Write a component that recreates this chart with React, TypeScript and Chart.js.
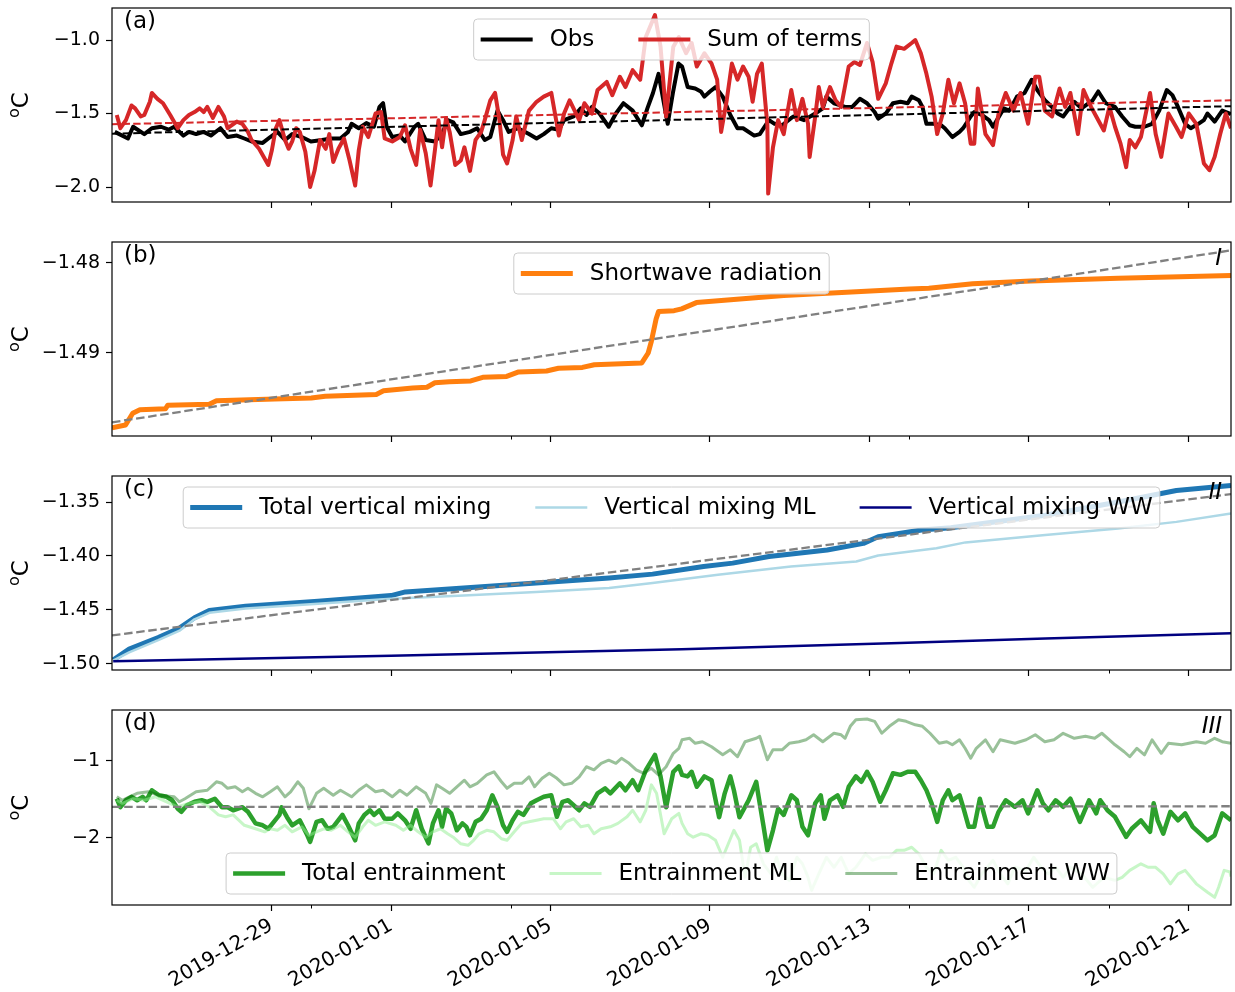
import { useEffect, useRef } from "react";
import Chart from "chart.js/auto";

// shared look, matplotlib-ish
const FONT = "'DejaVu Sans', sans-serif";
const FIG_W = 1235;
const PLOT_LEFT = 112;
const PLOT_RIGHT = 1231;

// x axis: days since 2019-12-25 00:00
const X_MAX = 28.07;
const X_TICK_DAYS = [4, 7, 11, 15, 19, 23, 27];
const X_TICK_LABELS = ["2019-12-29", "2020-01-01", "2020-01-05", "2020-01-09", "2020-01-13", "2020-01-17", "2020-01-21"];
const X_MINOR_DAYS = [5, 10, 20, 25];

type Pt = [number, number];

// (a) observed temperature vs sum of terms
const obs: Pt[] = [
  [0.07, -1.625], [0.4, -1.67], [0.53, -1.59], [0.81, -1.64], [1.0, -1.6], [1.23, -1.59], [1.42, -1.61], [1.56, -1.59],
  [1.79, -1.65], [1.93, -1.625], [2.11, -1.64], [2.3, -1.625], [2.48, -1.65], [2.72, -1.6], [2.9, -1.66], [3.13, -1.65],
  [3.32, -1.67], [3.5, -1.69], [3.78, -1.7], [3.97, -1.66], [4.15, -1.625], [4.34, -1.68], [4.52, -1.64], [4.76, -1.66],
  [4.99, -1.69], [5.27, -1.68], [5.5, -1.67], [5.73, -1.67], [5.92, -1.625], [6.01, -1.57], [6.19, -1.6], [6.38, -1.565],
  [6.57, -1.59], [6.71, -1.455], [6.8, -1.43], [6.89, -1.59], [7.03, -1.66], [7.22, -1.65], [7.35, -1.69], [7.59, -1.59],
  [7.68, -1.57], [7.87, -1.68], [8.1, -1.69], [8.28, -1.64], [8.42, -1.545], [8.56, -1.56], [8.75, -1.64], [8.98, -1.625],
  [9.16, -1.6], [9.35, -1.68], [9.49, -1.66], [9.67, -1.48], [9.81, -1.545], [9.95, -1.625], [10.18, -1.6], [10.46, -1.64],
  [10.65, -1.67], [10.83, -1.64], [11.02, -1.6], [11.21, -1.61], [11.34, -1.545], [11.58, -1.52], [11.76, -1.465], [11.9, -1.51],
  [12.04, -1.455], [12.23, -1.5], [12.46, -1.59], [12.64, -1.5], [12.83, -1.43], [13.06, -1.48], [13.29, -1.58], [13.43, -1.465],
  [13.57, -1.36], [13.71, -1.23], [13.94, -1.57], [14.07, -1.36], [14.21, -1.16], [14.3, -1.18], [14.44, -1.32], [14.63, -1.33],
  [14.77, -1.35], [14.86, -1.385], [15.0, -1.35], [15.14, -1.32], [15.32, -1.385], [15.51, -1.51], [15.69, -1.6], [15.83, -1.6],
  [16.11, -1.65], [16.25, -1.64], [16.48, -1.545], [16.62, -1.57], [16.81, -1.58], [17.09, -1.52], [17.36, -1.545], [17.64, -1.5],
  [17.83, -1.465], [17.92, -1.385], [18.11, -1.43], [18.39, -1.455], [18.57, -1.455], [18.76, -1.4], [18.94, -1.43], [19.13, -1.49],
  [19.22, -1.535], [19.41, -1.5], [19.59, -1.43], [19.78, -1.42], [19.96, -1.43], [20.06, -1.385], [20.24, -1.41], [20.33, -1.455],
  [20.43, -1.57], [20.61, -1.57], [20.8, -1.58], [20.89, -1.6], [21.08, -1.66], [21.26, -1.625], [21.35, -1.6], [21.54, -1.52],
  [21.63, -1.49], [21.82, -1.51], [22.0, -1.545], [22.1, -1.59], [22.37, -1.465], [22.51, -1.48], [22.7, -1.385], [22.89, -1.36],
  [23.07, -1.27], [23.21, -1.34], [23.4, -1.41], [23.58, -1.455], [23.72, -1.5], [23.86, -1.52], [24.04, -1.455], [24.14, -1.42],
  [24.32, -1.465], [24.6, -1.41], [24.74, -1.35], [24.93, -1.43], [25.16, -1.455], [25.34, -1.52], [25.53, -1.58], [25.67, -1.59],
  [25.9, -1.59], [26.09, -1.57], [26.27, -1.48], [26.46, -1.34], [26.6, -1.375], [26.74, -1.455], [26.92, -1.57], [27.06, -1.6],
  [27.25, -1.57], [27.39, -1.545], [27.48, -1.5], [27.66, -1.555], [27.85, -1.48], [28.04, -1.5], [28.07, -1.505],
];
const sumTerms: Pt[] = [
  [0.12, -1.51], [0.21, -1.6], [0.35, -1.545], [0.49, -1.445], [0.58, -1.465], [0.72, -1.52], [0.81, -1.51], [0.95, -1.42],
  [1.0, -1.36], [1.14, -1.4], [1.28, -1.43], [1.46, -1.51], [1.65, -1.6], [1.79, -1.545], [1.93, -1.51], [2.07, -1.49],
  [2.2, -1.465], [2.3, -1.49], [2.39, -1.455], [2.53, -1.53], [2.67, -1.455], [2.81, -1.52], [2.9, -1.6], [3.13, -1.555],
  [3.27, -1.57], [3.41, -1.625], [3.5, -1.68], [3.69, -1.74], [3.92, -1.85], [4.01, -1.75], [4.11, -1.6], [4.2, -1.545],
  [4.34, -1.68], [4.43, -1.74], [4.52, -1.69], [4.62, -1.6], [4.71, -1.625], [4.85, -1.76], [4.97, -2.0], [5.08, -1.89],
  [5.22, -1.68], [5.36, -1.74], [5.45, -1.64], [5.55, -1.83], [5.68, -1.74], [5.82, -1.67], [5.96, -1.82], [6.1, -1.99],
  [6.19, -1.75], [6.29, -1.59], [6.43, -1.66], [6.61, -1.5], [6.75, -1.49], [6.84, -1.67], [7.03, -1.69], [7.22, -1.66],
  [7.35, -1.58], [7.49, -1.74], [7.63, -1.85], [7.73, -1.61], [7.87, -1.77], [7.99, -1.99], [8.1, -1.75], [8.19, -1.545],
  [8.28, -1.73], [8.38, -1.53], [8.47, -1.625], [8.61, -1.85], [8.75, -1.82], [8.84, -1.73], [8.98, -1.89], [9.12, -1.68],
  [9.26, -1.625], [9.35, -1.545], [9.49, -1.41], [9.61, -1.36], [9.72, -1.545], [9.81, -1.78], [9.91, -1.84], [10.05, -1.68],
  [10.14, -1.52], [10.28, -1.68], [10.46, -1.48], [10.65, -1.42], [10.83, -1.385], [11.02, -1.36], [11.21, -1.65], [11.34, -1.5],
  [11.48, -1.41], [11.72, -1.545], [11.85, -1.43], [12.04, -1.5], [12.18, -1.34], [12.41, -1.285], [12.55, -1.375], [12.74, -1.25],
  [12.88, -1.32], [13.06, -1.205], [13.25, -1.27], [13.39, -0.98], [13.62, -0.83], [13.76, -1.045], [13.9, -1.52], [14.08, -1.045],
  [14.22, -0.98], [14.4, -1.09], [14.54, -1.02], [14.67, -1.18], [14.86, -1.09], [15.04, -1.16], [15.18, -1.27], [15.28, -1.625],
  [15.42, -1.41], [15.55, -1.16], [15.69, -1.27], [15.83, -1.18], [15.97, -1.25], [16.07, -1.42], [16.18, -1.23], [16.3, -1.16],
  [16.44, -1.58], [16.46, -2.045], [16.58, -1.73], [16.71, -1.545], [16.85, -1.64], [17.04, -1.34], [17.18, -1.545], [17.32, -1.4],
  [17.46, -1.57], [17.5, -1.795], [17.64, -1.52], [17.73, -1.32], [17.83, -1.455], [18.01, -1.32], [18.15, -1.41], [18.29, -1.455],
  [18.48, -1.18], [18.62, -1.15], [18.76, -1.17], [18.94, -1.02], [19.08, -1.15], [19.22, -1.4], [19.41, -1.295], [19.55, -1.16],
  [19.68, -1.045], [19.87, -1.06], [20.06, -1.02], [20.15, -1.0], [20.29, -1.09], [20.43, -1.23], [20.56, -1.385], [20.7, -1.64],
  [20.84, -1.5], [20.98, -1.27], [21.12, -1.43], [21.26, -1.295], [21.4, -1.43], [21.54, -1.705], [21.63, -1.705], [21.72, -1.33],
  [21.91, -1.64], [22.1, -1.715], [22.24, -1.5], [22.42, -1.36], [22.61, -1.48], [22.79, -1.36], [22.98, -1.57], [23.16, -1.25],
  [23.26, -1.25], [23.4, -1.48], [23.58, -1.52], [23.77, -1.33], [23.91, -1.455], [24.04, -1.36], [24.23, -1.64], [24.37, -1.34],
  [24.56, -1.455], [24.69, -1.52], [24.88, -1.615], [25.02, -1.455], [25.16, -1.59], [25.3, -1.705], [25.44, -1.865], [25.53, -1.68],
  [25.67, -1.73], [25.81, -1.66], [26.04, -1.36], [26.18, -1.64], [26.32, -1.795], [26.5, -1.5], [26.69, -1.59], [26.83, -1.66],
  [27.01, -1.5], [27.2, -1.57], [27.39, -1.84], [27.53, -1.885], [27.66, -1.795], [27.8, -1.64], [27.94, -1.5], [28.07, -1.6],
];
const obsTrend: Pt[] = [[0, -1.637], [X_MAX, -1.45]];
const sumTrend: Pt[] = [[0, -1.573], [X_MAX, -1.41]];

// (b) shortwave radiation (cumulative)
const shortwave: Pt[] = [
  [0.0, -1.4983], [0.34, -1.498], [0.52, -1.4967], [0.7, -1.4963], [1.34, -1.4962], [1.4, -1.4958], [2.44, -1.4957],
  [2.62, -1.4953], [4.08, -1.4951], [5.0, -1.495], [5.35, -1.4948], [6.63, -1.4946], [6.81, -1.4942], [7.54, -1.4939],
  [7.9, -1.4938], [8.1, -1.4933], [8.46, -1.4932], [9.0, -1.4931], [9.3, -1.4927], [9.9, -1.4926], [10.2, -1.4921],
  [10.9, -1.492], [11.2, -1.4917], [11.8, -1.4916], [12.1, -1.4913], [13.29, -1.4911], [13.45, -1.49], [13.53, -1.4887],
  [13.65, -1.4862], [13.71, -1.4854], [14.1, -1.4853], [14.29, -1.4851], [14.66, -1.4844], [15.75, -1.484], [16.85, -1.4836],
  [18.67, -1.4832], [20.0, -1.4829], [20.49, -1.4828], [21.59, -1.4823], [23.05, -1.482], [25.24, -1.4817], [X_MAX, -1.4814],
];
const shortwaveTrend: Pt[] = [[0, -1.4977], [X_MAX, -1.4786]];

// (c) vertical mixing (cumulative)
const mixTotal: Pt[] = [
  [0.03, -1.4963], [0.43, -1.4863], [1.16, -1.4755], [1.71, -1.4664], [2.07, -1.4572], [2.44, -1.4504], [3.35, -1.4465],
  [5.17, -1.4419], [7.0, -1.4367], [7.36, -1.4333], [8.82, -1.4296], [10.64, -1.425], [12.47, -1.4204], [13.56, -1.4168],
  [14.84, -1.4097], [15.57, -1.4066], [16.48, -1.4005], [17.94, -1.3944], [18.85, -1.3883], [19.22, -1.3822], [20.31, -1.376],
  [21.04, -1.3739], [23.41, -1.3622], [25.24, -1.35], [26.7, -1.3393], [X_MAX, -1.3347],
];
const mixML: Pt[] = [
  [0.03, -1.497], [0.43, -1.4893], [1.16, -1.478], [1.71, -1.4688], [2.07, -1.4587], [2.44, -1.4526], [3.35, -1.4486],
  [5.17, -1.4443], [7.0, -1.4397], [8.82, -1.4367], [10.64, -1.4333], [12.47, -1.4296], [13.56, -1.425], [15.2, -1.4174],
  [17.03, -1.4097], [18.67, -1.4051], [19.22, -1.3996], [20.68, -1.3929], [21.41, -1.3874], [23.41, -1.3806], [25.24, -1.3745],
  [26.7, -1.3684], [X_MAX, -1.3607],
];
const mixWW: Pt[] = [[0.03, -1.4976], [7.0, -1.4924], [14.29, -1.4863], [19.76, -1.4807], [23.41, -1.4765], [X_MAX, -1.4716]];
const mixTrend: Pt[] = [[0, -1.4735], [X_MAX, -1.3426]];

// (d) entrainment
const entTotal: Pt[] = [
  [0.12, -1.49], [0.21, -1.6], [0.35, -1.51], [0.49, -1.465], [0.63, -1.51], [0.77, -1.465], [0.86, -1.51], [1.0, -1.38],
  [1.18, -1.445], [1.37, -1.465], [1.51, -1.51], [1.65, -1.62], [1.74, -1.66], [1.88, -1.575], [2.07, -1.53], [2.25, -1.51],
  [2.39, -1.53], [2.58, -1.49], [2.76, -1.6], [2.9, -1.6], [3.04, -1.64], [3.27, -1.6], [3.41, -1.66], [3.6, -1.81],
  [3.78, -1.835], [3.92, -1.88], [4.06, -1.79], [4.2, -1.7], [4.25, -1.6], [4.39, -1.73], [4.52, -1.835], [4.71, -1.77],
  [4.9, -1.965], [4.97, -2.05], [5.13, -1.79], [5.27, -1.77], [5.41, -1.88], [5.55, -1.855], [5.78, -1.7], [5.92, -1.835],
  [6.1, -2.03], [6.19, -1.81], [6.33, -1.7], [6.47, -1.64], [6.57, -1.7], [6.71, -1.64], [6.84, -1.75], [7.03, -1.75],
  [7.17, -1.68], [7.35, -1.77], [7.49, -1.88], [7.63, -1.64], [7.77, -1.88], [7.94, -2.07], [8.05, -1.81], [8.19, -1.64],
  [8.28, -1.855], [8.38, -1.62], [8.51, -1.68], [8.65, -1.9], [8.79, -1.81], [8.89, -1.855], [8.98, -1.965], [9.12, -1.79],
  [9.26, -1.75], [9.4, -1.64], [9.54, -1.445], [9.67, -1.595], [9.81, -1.835], [9.91, -1.92], [10.05, -1.77], [10.18, -1.66],
  [10.32, -1.7], [10.51, -1.55], [10.65, -1.51], [10.83, -1.465], [11.02, -1.445], [11.16, -1.725], [11.3, -1.53], [11.44, -1.51],
  [11.72, -1.64], [11.85, -1.55], [11.99, -1.595], [12.18, -1.42], [12.37, -1.355], [12.5, -1.42], [12.74, -1.29], [12.88, -1.38],
  [13.06, -1.25], [13.2, -1.38], [13.39, -1.12], [13.62, -0.92], [13.76, -1.2], [13.9, -1.6], [14.08, -1.14], [14.22, -1.07],
  [14.3, -1.18], [14.44, -1.2], [14.54, -1.14], [14.67, -1.335], [14.86, -1.2], [15.04, -1.25], [15.23, -1.73], [15.37, -1.42],
  [15.51, -1.2], [15.6, -1.38], [15.74, -1.73], [15.97, -1.51], [16.16, -1.27], [16.2, -1.4], [16.34, -1.835], [16.44, -2.16],
  [16.58, -1.9], [16.71, -1.62], [16.85, -1.7], [17.04, -1.445], [17.18, -1.51], [17.32, -1.855], [17.46, -1.965], [17.64, -1.55],
  [17.78, -1.445], [17.87, -1.75], [18.01, -1.51], [18.2, -1.445], [18.34, -1.595], [18.48, -1.335], [18.66, -1.2], [18.8, -1.27],
  [18.94, -1.14], [19.08, -1.27], [19.27, -1.53], [19.41, -1.38], [19.59, -1.16], [19.78, -1.18], [19.96, -1.14], [20.15, -1.14],
  [20.29, -1.25], [20.43, -1.38], [20.56, -1.55], [20.7, -1.79], [20.84, -1.51], [20.98, -1.38], [21.08, -1.51], [21.26, -1.445],
  [21.35, -1.595], [21.49, -1.855], [21.63, -1.855], [21.77, -1.49], [21.96, -1.855], [22.1, -1.855], [22.24, -1.66], [22.42, -1.51],
  [22.65, -1.595], [22.84, -1.51], [22.98, -1.68], [23.21, -1.38], [23.35, -1.55], [23.49, -1.64], [23.67, -1.51], [23.86, -1.595],
  [24.04, -1.49], [24.28, -1.79], [24.51, -1.51], [24.69, -1.68], [24.79, -1.51], [24.97, -1.64], [25.16, -1.725], [25.44, -1.985],
  [25.58, -1.88], [25.81, -1.77], [26.04, -1.92], [26.13, -1.55], [26.23, -1.77], [26.37, -1.945], [26.55, -1.66], [26.74, -1.77],
  [26.92, -1.68], [27.11, -1.855], [27.48, -2.03], [27.66, -1.965], [27.85, -1.68], [X_MAX, -1.77],
];
const entML: Pt[] = [
  [0.12, -1.51], [0.26, -1.55], [0.53, -1.49], [0.81, -1.51], [1.09, -1.465], [1.37, -1.53], [1.65, -1.595], [1.93, -1.55],
  [2.2, -1.53], [2.44, -1.595], [2.67, -1.7], [2.85, -1.725], [3.04, -1.7], [3.32, -1.835], [3.6, -1.88], [3.83, -1.92],
  [3.97, -1.88], [4.15, -1.9], [4.34, -1.835], [4.52, -1.92], [4.76, -1.855], [4.94, -1.965], [5.13, -1.92], [5.31, -1.88],
  [5.5, -1.9], [5.73, -1.835], [5.92, -1.92], [6.1, -1.99], [6.29, -1.855], [6.43, -1.77], [6.61, -1.835], [6.84, -1.79],
  [7.12, -1.835], [7.31, -1.9], [7.49, -1.835], [7.68, -1.92], [7.87, -1.99], [8.05, -1.92], [8.24, -1.88], [8.42, -1.945],
  [8.56, -1.99], [8.75, -2.075], [8.93, -2.095], [9.07, -2.03], [9.21, -1.945], [9.4, -1.9], [9.58, -1.92], [9.77, -2.01],
  [9.91, -2.03], [10.09, -1.92], [10.28, -1.81], [10.46, -1.79], [10.65, -1.77], [10.83, -1.75], [11.07, -1.75], [11.25, -1.88],
  [11.39, -1.79], [11.58, -1.75], [11.76, -1.855], [11.95, -1.835], [12.09, -1.945], [12.27, -1.88], [12.5, -1.855], [12.69, -1.81],
  [12.92, -1.725], [13.06, -1.64], [13.25, -1.79], [13.39, -1.64], [13.53, -1.31], [13.66, -1.42], [13.85, -1.945], [14.04, -1.75],
  [14.22, -1.68], [14.3, -1.81], [14.44, -1.945], [14.58, -1.99], [14.77, -1.945], [14.95, -1.965], [15.14, -2.03], [15.32, -2.25],
  [15.46, -2.075], [15.6, -1.9], [15.74, -2.03], [15.88, -2.51], [16.02, -2.12], [16.16, -2.075], [16.34, -2.335], [16.53, -2.465],
  [16.67, -2.25], [16.81, -2.465], [16.99, -2.55], [17.18, -2.25], [17.32, -2.335], [17.46, -2.51], [17.55, -2.68], [17.73, -2.465],
  [17.92, -2.25], [18.11, -2.38], [18.29, -2.25], [18.48, -2.465], [18.66, -2.38], [18.9, -2.205], [19.08, -2.29], [19.31, -2.25],
  [19.5, -2.25], [19.68, -2.16], [19.87, -2.16], [20.06, -2.12], [20.24, -2.205], [20.43, -2.38], [20.61, -2.465], [20.8, -2.16],
  [20.98, -2.29], [21.17, -2.25], [21.35, -2.38], [21.49, -2.55], [21.63, -2.64], [21.82, -2.465], [22.1, -2.29], [22.28, -2.465],
  [22.47, -2.595], [22.65, -2.38], [22.93, -2.42], [23.12, -2.25], [23.31, -2.38], [23.49, -2.465], [23.67, -2.38], [23.86, -2.51],
  [24.04, -2.38], [24.32, -2.465], [24.6, -2.64], [24.88, -2.51], [25.16, -2.55], [25.34, -2.51], [25.53, -2.42], [25.81, -2.335],
  [25.99, -2.38], [26.18, -2.38], [26.37, -2.465], [26.55, -2.595], [26.74, -2.465], [26.92, -2.42], [27.2, -2.595], [27.48, -2.705],
  [27.66, -2.77], [27.76, -2.64], [27.9, -2.42], [28.04, -2.44], [X_MAX, -2.5],
];
const entWW: Pt[] = [
  [0.12, -1.465], [0.26, -1.51], [0.44, -1.465], [0.63, -1.42], [0.91, -1.4], [1.18, -1.445], [1.56, -1.465], [1.69, -1.53],
  [1.83, -1.49], [2.11, -1.4], [2.39, -1.38], [2.62, -1.27], [2.76, -1.29], [2.9, -1.355], [3.09, -1.335], [3.27, -1.4],
  [3.41, -1.355], [3.6, -1.42], [3.78, -1.465], [3.97, -1.4], [4.15, -1.335], [4.34, -1.465], [4.48, -1.4], [4.66, -1.27],
  [4.8, -1.355], [4.94, -1.62], [5.13, -1.42], [5.31, -1.355], [5.55, -1.445], [5.73, -1.38], [6.01, -1.465], [6.19, -1.38],
  [6.38, -1.31], [6.61, -1.4], [6.8, -1.38], [7.03, -1.465], [7.22, -1.38], [7.4, -1.445], [7.63, -1.335], [7.87, -1.42],
  [8.0, -1.55], [8.14, -1.31], [8.28, -1.355], [8.47, -1.42], [8.65, -1.335], [8.84, -1.25], [8.98, -1.335], [9.16, -1.29],
  [9.4, -1.18], [9.58, -1.14], [9.77, -1.27], [9.91, -1.355], [10.09, -1.29], [10.28, -1.29], [10.46, -1.205], [10.6, -1.335],
  [10.79, -1.225], [10.97, -1.16], [11.16, -1.225], [11.34, -1.31], [11.53, -1.29], [11.72, -1.205], [11.9, -1.075], [12.09, -1.115],
  [12.27, -1.03], [12.46, -0.99], [12.64, -1.03], [12.78, -0.965], [12.97, -1.03], [13.15, -1.115], [13.34, -1.16], [13.53, -1.095],
  [13.71, -1.18], [13.9, -1.075], [14.08, -0.9], [14.22, -0.835], [14.3, -0.725], [14.49, -0.705], [14.63, -0.77], [14.81, -0.75],
  [15.04, -0.815], [15.32, -0.92], [15.51, -0.855], [15.69, -0.945], [15.88, -0.75], [16.16, -0.705], [16.25, -0.68], [16.44, -0.985],
  [16.58, -0.855], [16.81, -0.855], [16.99, -0.77], [17.23, -0.75], [17.41, -0.725], [17.6, -0.66], [17.83, -0.75], [18.11, -0.64],
  [18.29, -0.66], [18.39, -0.705], [18.52, -0.55], [18.66, -0.465], [18.94, -0.455], [19.13, -0.485], [19.31, -0.64], [19.5, -0.55],
  [19.73, -0.465], [19.92, -0.485], [20.15, -0.53], [20.33, -0.55], [20.52, -0.64], [20.75, -0.77], [20.94, -0.75], [21.08, -0.79],
  [21.26, -0.725], [21.4, -0.835], [21.54, -0.965], [21.68, -0.835], [21.91, -0.725], [22.1, -0.88], [22.28, -0.725], [22.65, -0.77],
  [22.93, -0.725], [23.16, -0.66], [23.4, -0.75], [23.63, -0.725], [23.86, -0.64], [24.14, -0.705], [24.42, -0.68], [24.65, -0.705],
  [24.83, -0.64], [25.02, -0.725], [25.16, -0.79], [25.39, -0.88], [25.53, -0.945], [25.71, -0.835], [25.9, -0.92], [26.09, -0.725],
  [26.32, -0.9], [26.5, -0.77], [26.83, -0.79], [27.2, -0.75], [27.43, -0.77], [27.66, -0.705], [27.85, -0.75], [X_MAX, -0.77],
];
const entTrend: Pt[] = [[0, -1.596], [X_MAX, -1.588]];

type Line = { data: Pt[]; color: string; width: number; dashed?: boolean; label?: string };
type Panel = {
  top: number; height: number; xAxisH: number; showDates: boolean;
  yMin: number; yMax: number; yTicks: number[]; yDigits: number;
  lines: Line[]; legendAt: "top" | "bottom"; tag: string; numeral: string;
};

const GREY = "#808080";

const PANELS: Panel[] = [
  {
    top: 0, height: 222, xAxisH: 20, showDates: false,
    yMin: -2.102, yMax: -0.782, yTicks: [-2.0, -1.5, -1.0], yDigits: 1,
    lines: [
      { data: obs, color: "#000000", width: 4, label: "Obs" },
      { data: sumTerms, color: "#d62728", width: 4, label: "Sum of terms" },
      { data: obsTrend, color: "#000000", width: 2, dashed: true },
      { data: sumTrend, color: "#d62728", width: 2, dashed: true },
    ],
    legendAt: "top", tag: "(a)", numeral: "",
  },
  {
    top: 234, height: 222, xAxisH: 20, showDates: false,
    yMin: -1.49922, yMax: -1.47767, yTicks: [-1.49, -1.48], yDigits: 2,
    lines: [
      { data: shortwave, color: "#ff7f0e", width: 5, label: "Shortwave radiation" },
      { data: shortwaveTrend, color: GREY, width: 2.3, dashed: true },
    ],
    legendAt: "top", tag: "(b)", numeral: "I",
  },
  {
    top: 468, height: 222, xAxisH: 20, showDates: false,
    yMin: -1.5056, yMax: -1.3259, yTicks: [-1.5, -1.45, -1.4, -1.35], yDigits: 2,
    lines: [
      { data: mixTotal, color: "#1f77b4", width: 5, label: "Total vertical mixing" },
      { data: mixML, color: "#add8e6", width: 2.5, label: "Vertical mixing ML" },
      { data: mixWW, color: "#000080", width: 2.5, label: "Vertical mixing WW" },
      { data: mixTrend, color: GREY, width: 2.3, dashed: true },
    ],
    legendAt: "top", tag: "(c)", numeral: "II",
  },
  {
    top: 702, height: 290, xAxisH: 87, showDates: true,
    yMin: -2.87, yMax: -0.338, yTicks: [-2, -1], yDigits: 0,
    lines: [
      { data: entTotal, color: "#2ca02c", width: 4.5, label: "Total entrainment" },
      { data: entML, color: "rgba(144,238,144,0.5)", width: 3, label: "Entrainment ML" },
      { data: entWW, color: "rgba(0,100,0,0.4)", width: 3, label: "Entrainment WW" },
      { data: entTrend, color: GREY, width: 2.3, dashed: true },
    ],
    legendAt: "bottom", tag: "(d)", numeral: "III",
  },
];

const fmtY = (v: number, digits: number) => (v < 0 ? "\u2212" : "") + Math.abs(v).toFixed(digits);

// frame, minor ticks, legend box, panel tags and the y title
const decor = {
  id: "decor",
  afterDatasetsDraw(chart: any, _args: any, opts: any) {
    const p: Panel = opts.panel;
    const { ctx, chartArea: ca } = chart;
    const xs = chart.scales.x;
    ctx.save();

    ctx.strokeStyle = "#000";
    ctx.lineWidth = 1.2;
    ctx.strokeRect(ca.left, ca.top, ca.right - ca.left, ca.bottom - ca.top);
    ctx.beginPath();
    for (const d of X_MINOR_DAYS) {
      const px = Math.round(xs.getPixelForValue(d)) + 0.5;
      ctx.moveTo(px, ca.bottom);
      ctx.lineTo(px, ca.bottom + 3.5);
    }
    ctx.lineWidth = 1;
    ctx.stroke();

    // legend
    const F = 23, pad = 7, hl = 52, hg = 17, cs = 44, h = 41;
    ctx.font = `${F}px ${FONT}`;
    const items = p.lines.filter((l) => l.label);
    const widths = items.map((l) => ctx.measureText(l.label!).width);
    const total = pad * 2 + widths.reduce((s, w) => s + w + hl + hg, 0) + cs * (items.length - 1);
    const x0 = (ca.left + ca.right) / 2 - total / 2;
    const y0 = p.legendAt === "top" ? ca.top + 11 : ca.bottom - 11 - h;
    ctx.beginPath();
    ctx.roundRect(x0, y0, total, h, 4);
    ctx.fillStyle = "rgba(255,255,255,0.8)";
    ctx.fill();
    ctx.strokeStyle = "#cccccc";
    ctx.lineWidth = 1;
    ctx.stroke();
    const cy = y0 + h / 2;
    let x = x0 + pad;
    items.forEach((l, i) => {
      ctx.beginPath();
      ctx.moveTo(x, cy);
      ctx.lineTo(x + hl, cy);
      ctx.strokeStyle = l.color;
      ctx.lineWidth = l.width;
      ctx.stroke();
      ctx.fillStyle = "#000";
      ctx.textBaseline = "middle";
      ctx.textAlign = "left";
      ctx.fillText(l.label!, x + hl + hg, cy + 1);
      x += hl + hg + widths[i] + cs;
    });

    // tag and numeral
    ctx.textBaseline = "alphabetic";
    ctx.fillText(p.tag, ca.left + 12, ca.top + 20);
    if (p.numeral) {
      ctx.font = `italic ${F}px ${FONT}`;
      ctx.textAlign = "right";
      ctx.fillText(p.numeral, ca.right - 9, ca.top + 23);
    }

    // y title: superscript o + C
    const midY = (ca.top + ca.bottom) / 2;
    ctx.translate(28, midY);
    ctx.rotate(-Math.PI / 2);
    ctx.textAlign = "left";
    ctx.font = `16px ${FONT}`;
    const wo = ctx.measureText("o").width;
    ctx.font = `${F}px ${FONT}`;
    const wc = ctx.measureText("C").width;
    const sx = -(wo + wc) / 2;
    ctx.font = `16px ${FONT}`;
    ctx.fillText("o", sx, -9);
    ctx.font = `${F}px ${FONT}`;
    ctx.fillText("C", sx + wo, 0);
    ctx.restore();
  },
};

function PanelChart({ p }: { p: Panel }) {
  const ref = useRef<HTMLCanvasElement>(null);
  useEffect(() => {
    if (!ref.current) return;
    const n = p.lines.length;
    const chart = new Chart(ref.current, {
      type: "line",
      data: {
        datasets: p.lines.map((l, i) => ({
          data: l.data.map(([x, y]) => ({ x, y })),
          borderColor: l.color,
          borderWidth: l.width,
          borderDash: l.dashed ? [3.7 * l.width, 1.6 * l.width] : [],
          borderJoinStyle: "round" as const,
          pointRadius: 0,
          tension: 0,
          fill: false,
          order: n - i,
        })),
      },
      options: {
        animation: false,
        responsive: true,
        maintainAspectRatio: false,
        events: [],
        layout: { padding: { left: 0, right: FIG_W - PLOT_RIGHT, top: 8, bottom: 0 } },
        plugins: { legend: { display: false }, tooltip: { enabled: false }, decor: { panel: p } } as any,
        scales: {
          x: {
            type: "linear",
            min: 0,
            max: X_MAX,
            afterBuildTicks: (s: any) => { s.ticks = X_TICK_DAYS.map((value) => ({ value })); },
            afterFit: (s: any) => {
              s.height = p.xAxisH;
              s.paddingLeft = 0;
              s.paddingRight = 0;
            },
            grid: { drawOnChartArea: false, drawTicks: true, tickLength: 6, tickWidth: 1.2, tickColor: "#000" },
            border: { display: false },
            ticks: {
              display: p.showDates,
              autoSkip: false,
              minRotation: 30,
              maxRotation: 30,
              padding: 3,
              color: "#000",
              font: { family: FONT, size: 20 },
              callback: (v: any) => X_TICK_LABELS[X_TICK_DAYS.indexOf(Number(v))] ?? "",
            },
          },
          y: {
            type: "linear",
            min: p.yMin,
            max: p.yMax,
            afterBuildTicks: (s: any) => { s.ticks = p.yTicks.map((value) => ({ value })); },
            afterFit: (s: any) => {
              s.width = PLOT_LEFT;
              s.paddingTop = 0;
              s.paddingBottom = 0;
            },
            grid: { drawOnChartArea: false, drawTicks: true, tickLength: 6, tickWidth: 1.2, tickColor: "#000" },
            border: { display: false },
            ticks: {
              autoSkip: false,
              padding: 6,
              color: "#000",
              font: { family: FONT, size: 19 },
              callback: (v: any) => fmtY(Number(v), p.yDigits),
            },
          },
        },
      },
      plugins: [decor],
    });
    return () => chart.destroy();
  }, [p]);
  return (
    <div style={{ position: "absolute", left: 0, top: p.top, width: FIG_W, height: p.height }}>
      <canvas ref={ref} />
    </div>
  );
}

export default function App() {
  return (
    <div style={{ position: "absolute", left: 0, top: 0, width: FIG_W, height: 992, background: "#fff" }}>
      {PANELS.map((p) => (
        <PanelChart key={p.tag} p={p} />
      ))}
    </div>
  );
}
